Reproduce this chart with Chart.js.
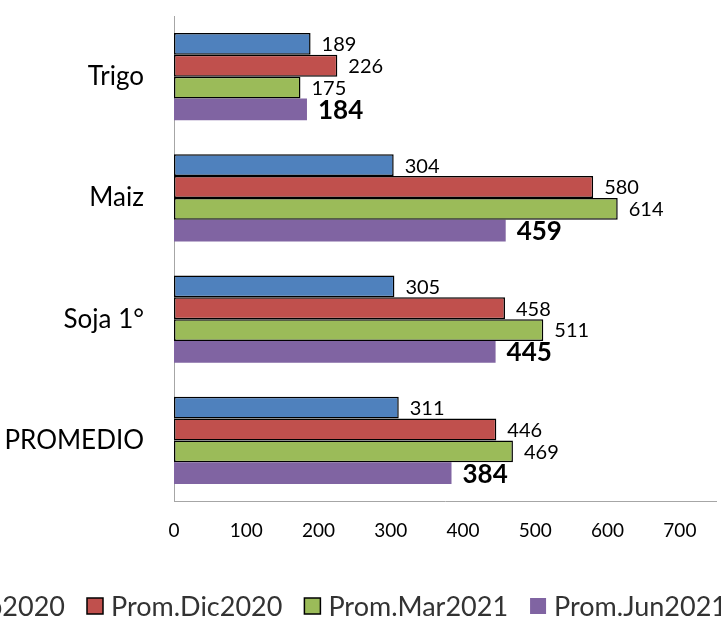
<!DOCTYPE html>
<html>
<head>
<meta charset="utf-8">
<script src="https://cdn.jsdelivr.net/npm/chart.js@4.4.1/dist/chart.umd.min.js"></script>
<style>
  html, body { margin: 0; padding: 0; background: #fff; overflow: hidden; }
</style>
</head>
<body>
<canvas id="chart" width="721" height="618"></canvas>
<script>
// data
const categories = ["Trigo", "Maiz", "Soja 1°", "PROMEDIO"];
const seriesNames = ["Prom.Sep2020", "Prom.Dic2020", "Prom.Mar2021", "Prom.Jun2021"];
const sep2020 = [189, 304, 305, 311];
const dic2020 = [226, 580, 458, 446];
const mar2021 = [175, 614, 511, 469];
const jun2021 = [184, 459, 445, 384];
const xTicks = [0, 100, 200, 300, 400, 500, 600, 700];

const colors = ["#4F81BD", "#C0504D", "#9BBB59", "#8064A2"];
const FONT = "Lato";

// value labels next to each bar
const barLabels = {
    id: "barLabels",
    afterDatasetsDraw(chart) {
        const ctx = chart.ctx;
        ctx.save();
        ctx.textBaseline = "middle";
        ctx.textAlign = "left";
        ctx.fillStyle = "#000";
        chart.data.datasets.forEach((ds, di) => {
            const meta = chart.getDatasetMeta(di);
            ctx.font = di === 3 ? "bold 26px " + FONT : "20px " + FONT;
            meta.data.forEach((bar, i) => {
                ctx.fillText(ds.data[i], bar.x + 11, bar.y + 1);
            });
        });
        ctx.restore();
    }
};

// legend in one row at the bottom, wider than the canvas like the original
const LEGEND_ITEM2_X = 87;
const bottomLegend = {
    id: "bottomLegend",
    afterDraw(chart) {
        const ctx = chart.ctx;
        ctx.save();
        ctx.font = "27px " + FONT;
        const box = 16, gapText = 8, gapItem = 22;
        const items = chart.data.datasets.map(ds => ({
            ds: ds,
            w: box + gapText + ctx.measureText(ds.label).width
        }));
        let x = LEGEND_ITEM2_X - items[0].w - gapItem;
        const yc = 606;
        items.forEach(it => {
            ctx.fillStyle = it.ds.backgroundColor;
            ctx.fillRect(x, yc - box / 2, box, box);
            if (it.ds.borderWidth) {
                ctx.strokeStyle = "#000";
                ctx.lineWidth = 1.5;
                ctx.strokeRect(x, yc - box / 2, box, box);
            }
            ctx.fillStyle = "#333";
            ctx.textBaseline = "middle";
            ctx.fillText(it.ds.label, x + box + gapText, yc + 1);
            x += it.w + gapItem;
        });
        ctx.restore();
    }
};

const allSeries = [sep2020, dic2020, mar2021, jun2021];

new Chart(document.getElementById("chart"), {
    type: "bar",
    data: {
        labels: categories,
        datasets: allSeries.map((vals, i) => ({
            label: seriesNames[i],
            data: vals,
            backgroundColor: colors[i],
            borderColor: "#000",
            borderWidth: i === 3 ? 0 : 1.5,
            borderSkipped: false,
            categoryPercentage: 0.72,
            barPercentage: 1.0
        }))
    },
    options: {
        indexAxis: "y",
        responsive: false,
        animation: false,
        layout: { padding: { top: 16, right: 5, left: 0, bottom: 0 } },
        plugins: {
            legend: { display: false },
            tooltip: { enabled: false }
        },
        scales: {
            x: {
                min: 0,
                max: 750,
                afterBuildTicks: s => { s.ticks = xTicks.map(v => ({ value: v })); },
                afterFit: s => { s.height = 117; s.paddingLeft = 0; s.paddingRight = 0; },
                grid: { display: false, drawTicks: false },
                border: { display: true, color: "#A6A6A6", width: 1 },
                ticks: {
                    padding: 18,
                    color: "#000",
                    font: { family: FONT, size: 19 },
                    maxRotation: 0
                }
            },
            y: {
                afterFit: s => { s.width = 174; s.paddingTop = 0; s.paddingBottom = 0; },
                grid: { display: false, drawTicks: false },
                border: { display: true, color: "#A6A6A6", width: 1 },
                ticks: {
                    padding: 30,
                    color: "#000",
                    font: { family: FONT, size: 26 }
                }
            }
        }
    },
    plugins: [barLabels, bottomLegend]
});
</script>
</body>
</html>
